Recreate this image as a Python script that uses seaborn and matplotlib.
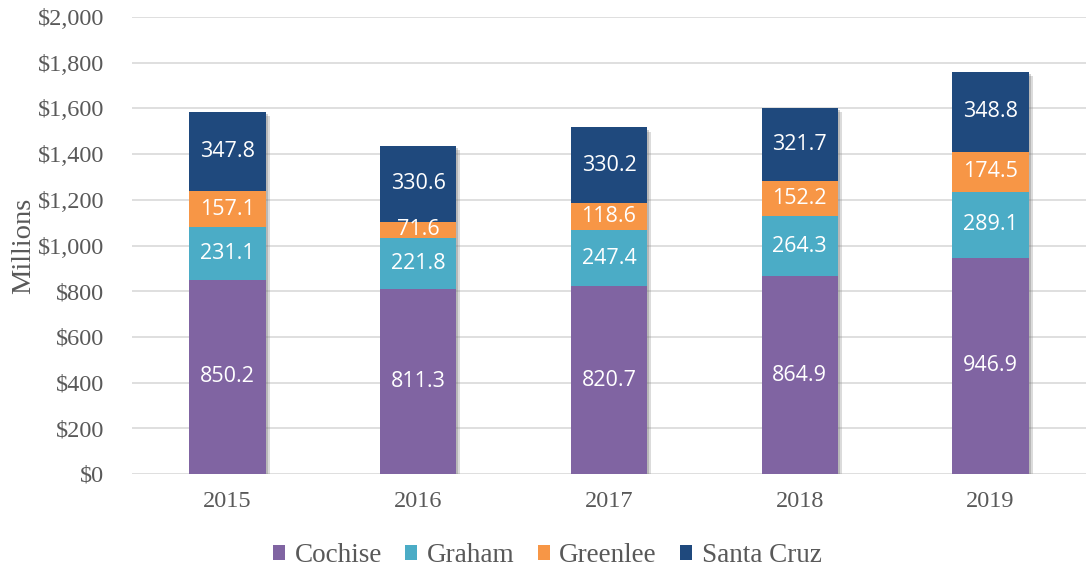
import matplotlib
matplotlib.use("Agg")
import matplotlib.pyplot as plt
import matplotlib.patheffects as pe
from matplotlib.patches import Patch
import seaborn as sns
import numpy as np

years = ["2015", "2016", "2017", "2018", "2019"]
cochise = [850.2, 811.3, 820.7, 864.9, 946.9]
graham = [231.1, 221.8, 247.4, 264.3, 289.1]
greenlee = [157.1, 71.6, 118.6, 152.2, 174.5]
santa_cruz = [347.8, 330.6, 330.2, 321.7, 348.8]

series = [
    ("Cochise", cochise, "#8064A2"),
    ("Graham", graham, "#4BACC6"),
    ("Greenlee", greenlee, "#F79646"),
    ("Santa Cruz", santa_cruz, "#1F497D"),
]
y_ticks = [0, 200, 400, 600, 800, 1000, 1200, 1400, 1600, 1800, 2000]

sns.set_theme(style="white")
plt.rcParams["font.family"] = ["Liberation Serif", "DejaVu Serif"]

fig = plt.figure(figsize=(10.86, 5.69), dpi=100)
ax = fig.add_axes([0.1215, 0.167, 0.8785, 0.803])

text_grey = "#595959"

# Stack totals drawn underneath, carrying the drop shadow of each column
totals = np.sum([np.array(v) for _, v, _ in series], axis=0)
sns.barplot(x=years, y=totals, color="white", width=0.4, saturation=1, ax=ax, zorder=2)
shadow = [pe.SimplePatchShadow(offset=(3, -3), shadow_rgbFace="#8a8a8a", alpha=0.3),
          pe.SimplePatchShadow(offset=(1.5, -1.5), shadow_rgbFace="#6a6a6a", alpha=0.3),
          pe.Normal()]
for patch in ax.patches:
    patch.set_path_effects(shadow)
    patch.set_edgecolor("none")

bottom = np.zeros(len(years))
for name, vals, color in series:
    vals = np.array(vals)
    sns.barplot(x=years, y=vals, bottom=bottom, color=color, width=0.4,
                saturation=1, ax=ax, zorder=3)
    for patch in ax.patches[-len(years):]:
        patch.set_edgecolor("none")
    for i, v in enumerate(vals):
        ax.text(i, bottom[i] + v / 2, f"{v:.1f}", ha="center", va="center",
                color="white", fontsize=15.5, family=["Open Sans", "DejaVu Sans"], zorder=5)
    bottom = bottom + vals

ax.set_ylim(0, 2000)
ax.set_xlim(-0.5, len(years) - 0.5)
ax.set_yticks(y_ticks)
ax.set_yticklabels([f"${t:,}" for t in y_ticks])
ax.yaxis.grid(True, color="#D9D9D9", linewidth=1.2, zorder=0)
ax.set_axisbelow(True)
for s in ax.spines.values():
    s.set_visible(False)
ax.tick_params(axis="both", labelsize=17.5, colors=text_grey, length=0)
ax.tick_params(axis="x", pad=12)
ax.tick_params(axis="y", pad=20)
ax.set_xlabel("")
ax.set_ylabel("Millions", fontsize=20.5, color=text_grey, labelpad=1)

handles = [Patch(facecolor=c, edgecolor="none", label=n) for n, _, c in series]
leg = fig.legend(handles=handles, loc="center", bbox_to_anchor=(0.504, 0.024), ncol=4,
                 frameon=False, fontsize=19.5, handlelength=0.45, handleheight=0.5,
                 handletextpad=0.35, columnspacing=0.85)
for t in leg.get_texts():
    t.set_color(text_grey)

fig.savefig("out.png", dpi=100)
